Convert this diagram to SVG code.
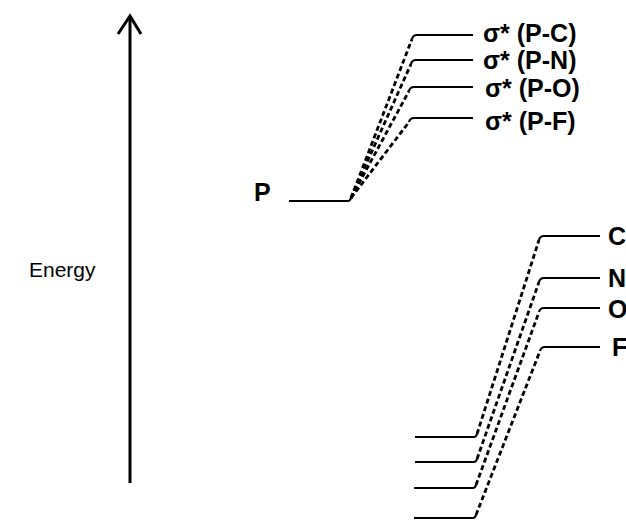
<svg xmlns="http://www.w3.org/2000/svg" width="626" height="520" viewBox="0 0 626 520">
<style>
.lvl{stroke:#000;stroke-width:2.2;fill:none;stroke-linecap:butt}
.dash{stroke:#000;stroke-width:2.8;fill:none;stroke-dasharray:5 3}
.lbl{font-family:"Liberation Sans",Arial,sans-serif;font-weight:bold;font-size:25px;fill:#000}
.axis{font-family:"Liberation Sans",Arial,sans-serif;font-size:21px;fill:#000}
</style>
<rect width="626" height="520" fill="#fff"/>
<g id="energy-axis">
<line x1="130" y1="483" x2="130" y2="17" stroke="#000" stroke-width="3"/>
<polyline points="118,34 130,16 141,34" fill="none" stroke="#000" stroke-width="3"/>
<text class="axis" x="29" y="277">Energy</text>
</g>
<g id="P">
<path class="lvl" d="M289 201 L348 201 Q350 201 351 198"/>
<text class="lbl" x="254" y="201">P</text>
</g>
<g id="sPC">
<path class="lvl" d="M412 39 Q413 35 417 35 L473 35"/>
<text class="lbl" x="483" y="42">σ* (P-C)</text>
</g>
<g id="sPN">
<path class="lvl" d="M411 64 Q412 60 416 60 L473 60"/>
<text class="lbl" x="483" y="69">σ* (P-N)</text>
</g>
<g id="sPO">
<path class="lvl" d="M409 91 Q410 87 414 87 L473 87"/>
<text class="lbl" x="485" y="97">σ* (P-O)</text>
</g>
<g id="sPF">
<path class="lvl" d="M409 122 Q410 118 414 118 L473 118"/>
<text class="lbl" x="485" y="130">σ* (P-F)</text>
</g>
<g id="C">
<path class="lvl" d="M539 240 Q540 236 544 236 L600 236"/>
<text class="lbl" x="608" y="245">C</text>
</g>
<g id="N">
<path class="lvl" d="M539 282 Q540 278 544 278 L600 278"/>
<text class="lbl" x="608" y="287">N</text>
</g>
<g id="O">
<path class="lvl" d="M539 312 Q540 308 544 308 L600 308"/>
<text class="lbl" x="608" y="318">O</text>
</g>
<g id="F">
<path class="lvl" d="M540 351 Q541 347 545 347 L600 347"/>
<text class="lbl" x="612" y="356">F</text>
</g>
<g id="lowC"><path class="lvl" d="M415 437 L474 437 Q476 437 477 434"/></g>
<g id="lowN"><path class="lvl" d="M415 462 L474 462 Q476 462 477 459"/></g>
<g id="lowO"><path class="lvl" d="M414 488 L473 488 Q475 488 476 485"/></g>
<g id="lowF"><path class="lvl" d="M414 518 L473 518 Q475 518 476 515"/></g>
<g id="connectors">
<line class="dash" x1="351" y1="198" x2="412" y2="39"/>
<line class="dash" x1="351" y1="198" x2="411" y2="64"/>
<line class="dash" x1="351" y1="198" x2="409" y2="91"/>
<line class="dash" x1="351" y1="198" x2="409" y2="122"/>
<line class="dash" x1="477" y1="434" x2="539" y2="240"/>
<line class="dash" x1="477" y1="459" x2="539" y2="282"/>
<line class="dash" x1="476" y1="485" x2="539" y2="312"/>
<line class="dash" x1="476" y1="515" x2="540" y2="351"/>
</g>
</svg>
